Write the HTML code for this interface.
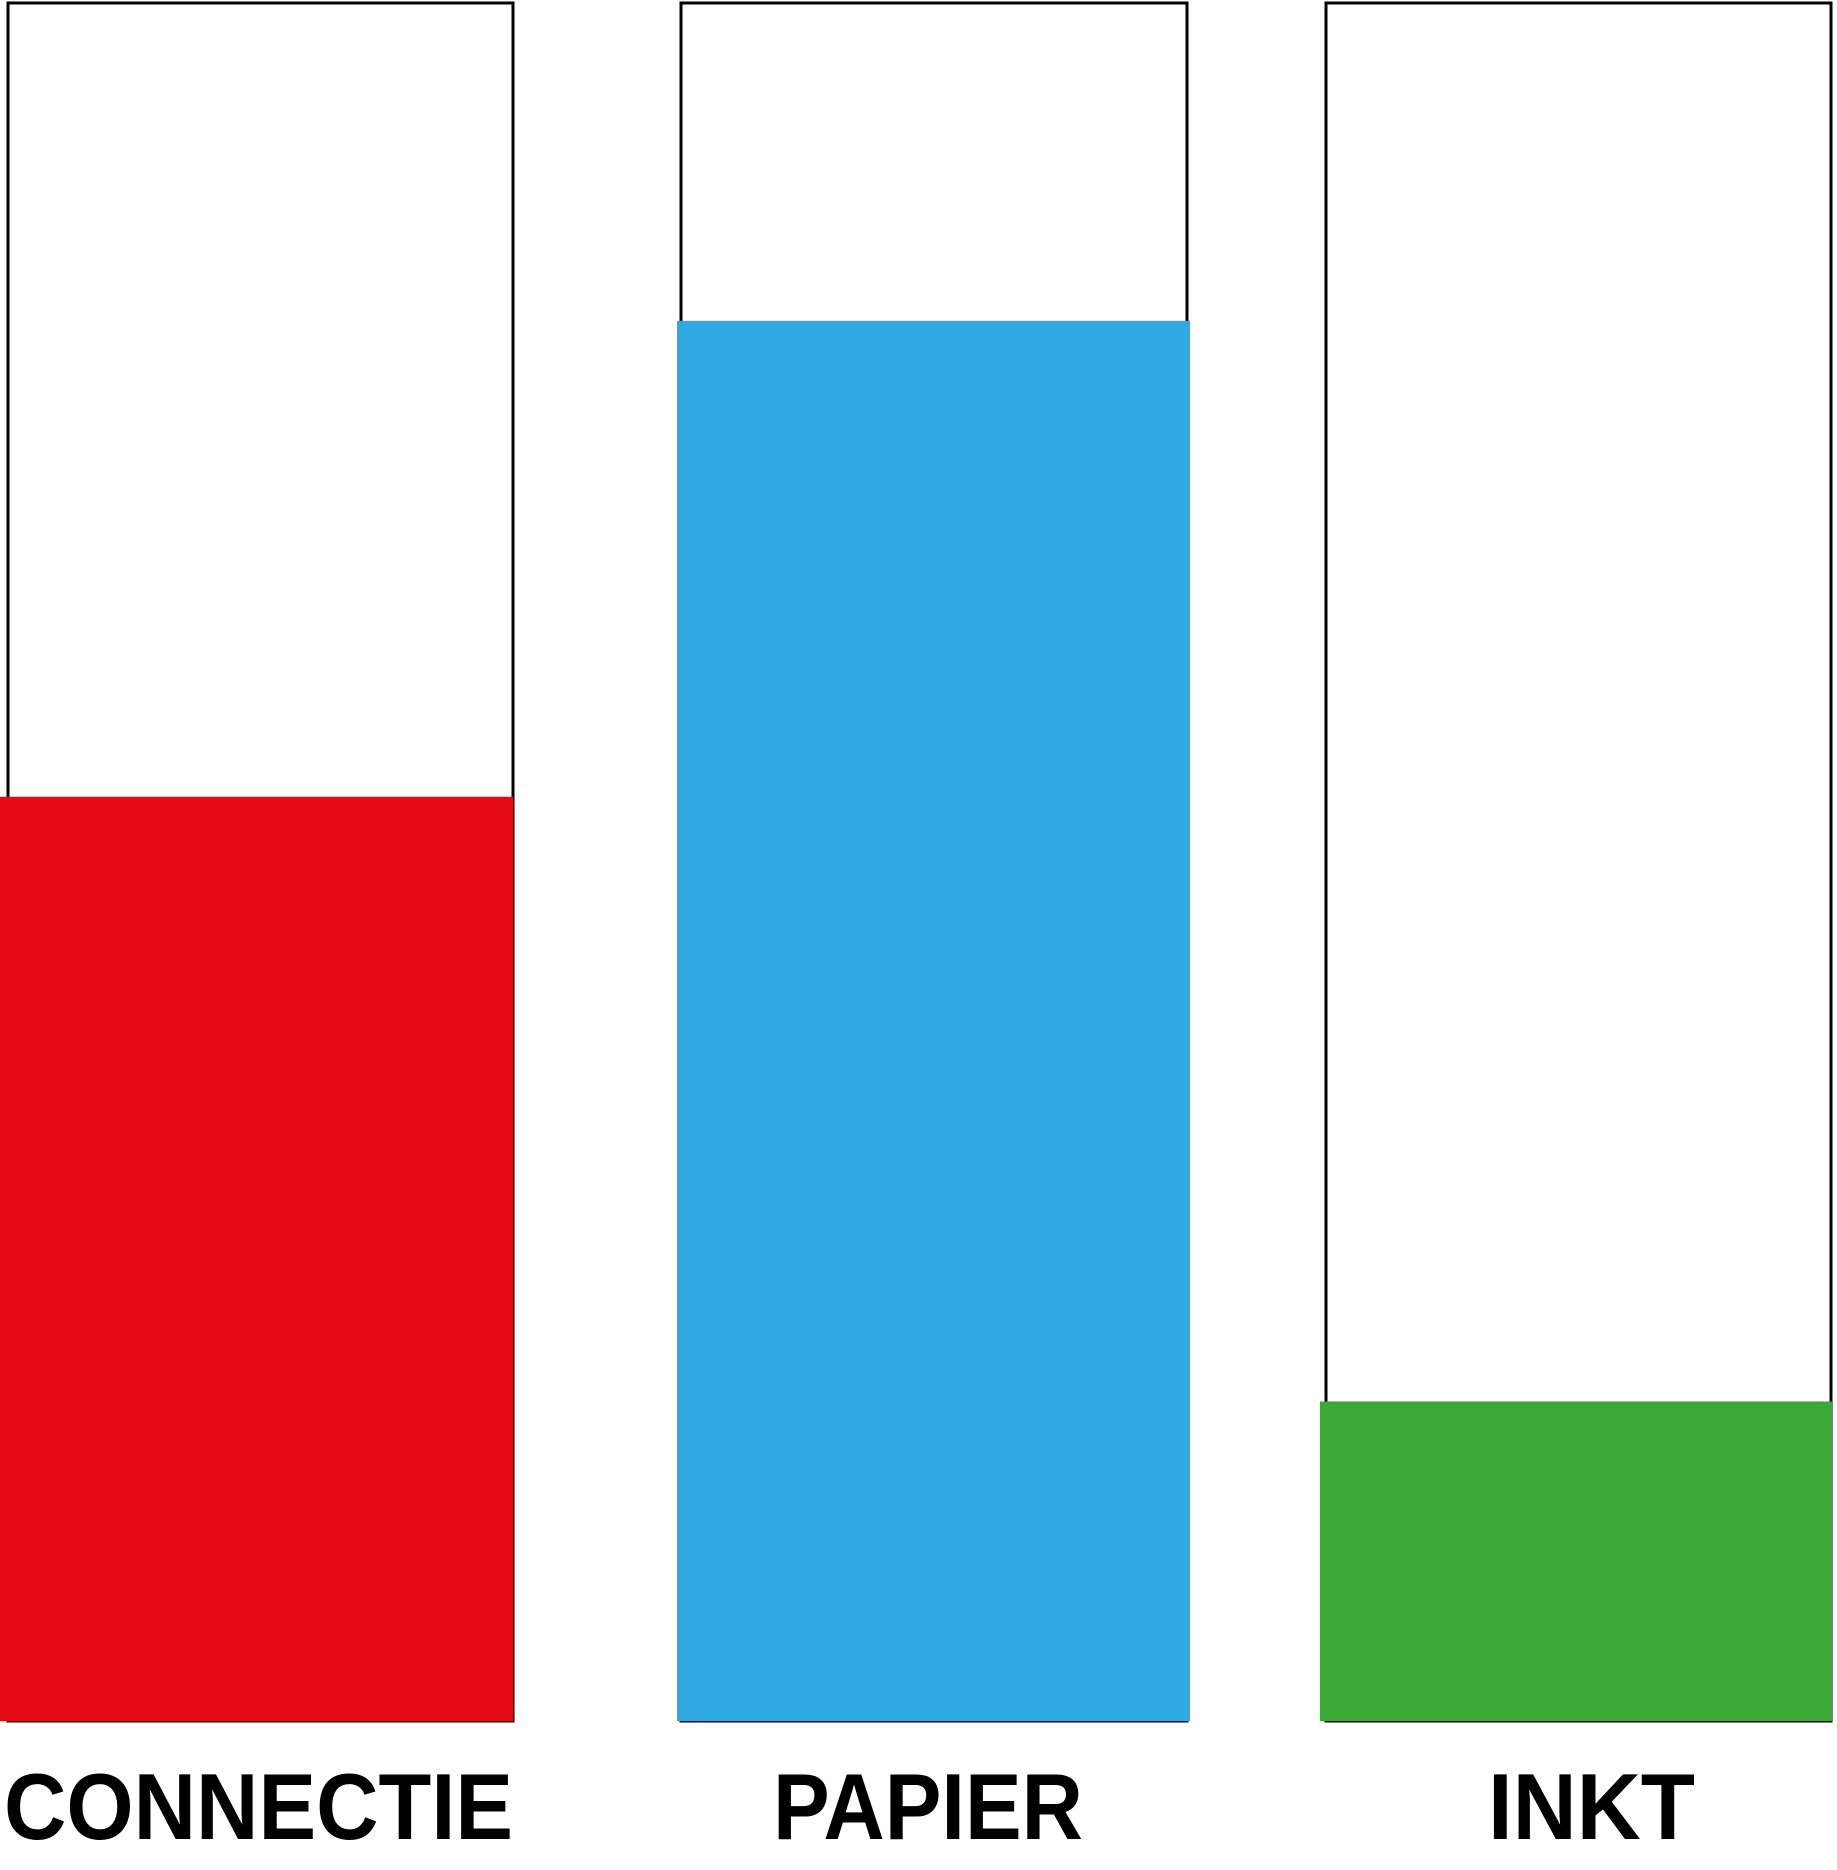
<!DOCTYPE html>
<html><head><meta charset="utf-8"><style>html,body{margin:0;padding:0;background:#fff}</style></head>
<body>
<svg id="chart" width="1837" height="1865" xmlns="http://www.w3.org/2000/svg"></svg>
<script>
const categories = ["CONNECTIE", "PAPIER", "INKT"];
const values = [53.8, 81.5, 18.6];
const colors = ["#e30915", "#2ea9e1", "#3aa935"];
const svg = document.getElementById('chart');
const NS = 'http://www.w3.org/2000/svg';
const yTop = 3, yBase = 1721;
function y(v){ return yBase - (yBase - yTop) * v / 100; }
const boxX = [[8,513],[681,1187],[1326,1831]];
const fillX = [[0,513],[677,1190],[1320,1832]];
const textX = [[4,513],[773,1083],[1488,1695]];
categories.forEach((c,i)=>{
  const box = document.createElementNS(NS,'rect');
  
  
  box.setAttribute('x', boxX[i][0]); box.setAttribute('y', y(100));
  box.setAttribute('width', boxX[i][1]-boxX[i][0]); box.setAttribute('height', yBase - y(100));
  box.setAttribute('fill','none'); box.setAttribute('stroke','#000'); box.setAttribute('stroke-width','3');
  svg.appendChild(box);
  const bar = document.createElementNS(NS,'rect');
  
  
  bar.setAttribute('x', fillX[i][0]); bar.setAttribute('y', y(values[i]));
  bar.setAttribute('width', fillX[i][1]-fillX[i][0]); bar.setAttribute('height', yBase - y(values[i]));
  bar.setAttribute('fill', colors[i]);
  svg.appendChild(bar);
  const t = document.createElementNS(NS,'text');
  
  
  t.setAttribute('x', textX[i][0]); t.setAttribute('y', 1839);
  t.setAttribute('textLength', textX[i][1]-textX[i][0]);
  t.setAttribute('lengthAdjust','spacingAndGlyphs');
  t.setAttribute('font-family','"Liberation Sans", sans-serif');
  t.setAttribute('font-weight','bold'); t.setAttribute('font-size','94');
  t.textContent = c;
  svg.appendChild(t);
});
</script>
</body></html>
